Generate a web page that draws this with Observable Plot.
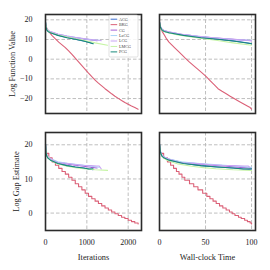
<!DOCTYPE html>
<html><head><meta charset="utf-8">
<script src="https://cdn.jsdelivr.net/npm/d3@7"></script>
<script src="https://cdn.jsdelivr.net/npm/@observablehq/plot@0.6"></script>
<style>
html,body{margin:0;padding:0;background:#fff;}
#wrap{position:relative;width:270px;height:270px;overflow:hidden;background:#fff;}
#wrap svg{position:absolute;left:0;top:0;}
</style></head><body><div id="wrap"></div><script>
// ---- data ----
const methods = ["ACG","BKG","CG","LaCG","LCG","LMCG","PCG"];
const colors = ["#3d6fd0","#db6077","#a45ed6","#a9d6f7","#c8a5f3","#c6f4a6","#18897b"];
const xIterTicks = [0, 1000, 2000];
const xTimeTicks = [0, 50, 100];
const yFTicks = [-20, -10, 0, 10, 20];
const yGapTicks = [0, 10, 20];

const ACG_iter = [0, 10, 30, 60, 120, 300, 520, 720, 920, 1050, 1150];
const ACG_time = [0, 0.9, 2.6, 5.2, 10.4, 26, 45, 63, 80, 91, 100];
const ACG_f    = [18.8, 16.5, 15.0, 14.2, 13.5, 12.2, 11.0, 10.2, 9.3, 8.6, 8.0];
const ACG_gap  = [20.3, 18.0, 16.8, 16.2, 15.6, 14.6, 13.9, 13.5, 13.2, 12.9, 12.7];

const BKG_iter = [0,80,160,240,320,400,480,560,640,720,800,880,960,1040,1120,1200,1280,1360,1440,1520,1600,1680,1760,1840,1920,2000,2080,2160,2240];
const BKG_time = [0,3,5.6,7.7,10.3,13.3,16.3,20,23.9,28,32.3,37,41.8,46.5,50.8,54.4,57.7,60.7,63.6,67.9,72.5,76.7,80.6,84.7,88.5,92,95.4,98.5,100];
const BKG_f    = [17.0,14.0,12.0,10.3,8.7,7.3,5.9,4.2,2.4,0.5,-1.4,-3.3,-5.2,-7.1,-8.9,-10.6,-12.2,-13.6,-15.0,-16.3,-17.6,-18.8,-19.9,-21.0,-22.0,-22.9,-23.8,-24.6,-25.4];
const BKG_gap  = [17.5,16.2,15.0,14.0,13.1,12.2,11.4,10.5,9.6,8.6,7.7,6.8,5.8,4.9,4.2,3.5,2.8,2.1,1.5,0.9,0.3,-0.2,-0.7,-1.2,-1.6,-2.1,-2.5,-2.9,-3.2];
const BKG_gapTime = [0,4.5,8.6,12.1,15.3,18.4,21.2,24.4,27.5,32.6,37.2,41.8,46.9,51.4,54.8,58.2,61.6,65.2,68.8,72.4,76,79,82,85.8,88.8,92.5,95.5,98.5,100];

const CG_iter = [0, 10, 30, 60, 120, 300, 520, 720, 920, 1100, 1250];
const CG_time = [0, 0.8, 2.4, 4.8, 9.6, 24, 41.6, 57.6, 73.6, 88, 100];
const CG_f    = [18.8, 16.7, 15.3, 14.5, 13.8, 12.6, 11.6, 10.9, 10.3, 9.8, 9.4];
const CG_gap  = [20.3, 18.2, 17.0, 16.4, 15.8, 14.9, 14.4, 14.0, 13.7, 13.4, 13.2];

const LaCG_iter = [0, 10, 30, 60, 120, 300, 520, 720, 920, 1100, 1300];
const LaCG_time = [0, 0.8, 2.3, 4.6, 9.2, 23, 40, 55.4, 70.8, 84.6, 100];
const LaCG_f    = [18.8, 16.8, 15.4, 14.6, 13.9, 12.7, 11.7, 11.0, 10.4, 9.9, 9.6];
const LaCG_gap  = [20.3, 18.3, 17.1, 16.5, 15.9, 15.0, 14.6, 14.3, 14.0, 13.7, 13.4];

const LCG_iter = [0, 10, 30, 60, 120, 300, 520, 720, 920, 1100, 1240, 1300, 1350];
const LCG_time = [0, 0.7, 2.2, 4.4, 8.9, 22.2, 38.5, 53.3, 68.1, 81.5, 91.9, 96.3, 100];
const LCG_f    = [18.8, 16.9, 15.5, 14.7, 14.0, 12.8, 11.8, 11.1, 10.5, 10.0, 9.7, 9.6, 9.4];
const LCG_gap  = [20.3, 18.3, 17.1, 16.5, 15.9, 14.7, 14.6, 14.2, 14.0, 13.9, 13.8, 13.8, 12.9];

const LMCG_iter = [0, 10, 30, 60, 120, 300, 520, 720, 920, 1200, 1500];
const LMCG_time = [0, 0.7, 2, 4, 8, 20, 34.7, 48, 61.3, 80, 100];
const LMCG_f    = [18.8, 16.6, 15.1, 14.3, 13.6, 12.3, 11.3, 10.4, 9.6, 8.3, 7.1];
const LMCG_gap  = [20.3, 18.1, 16.9, 16.2, 15.5, 14.4, 13.7, 13.3, 13.0, 12.7, 12.5];

const PCG_iter = [0, 10, 30, 60, 120, 300, 520, 720, 920, 1050, 1150];
const PCG_time = [0, 0.9, 2.6, 5.2, 10.4, 26, 45, 63, 80, 91, 100];
const PCG_f    = [18.8, 16.4, 14.9, 14.1, 13.4, 12.1, 10.9, 10.1, 9.2, 8.5, 7.8];
const PCG_gap  = [20.3, 17.9, 16.7, 16.1, 15.5, 14.5, 13.9, 13.5, 13.2, 12.9, 13.0];

// ---- tidy table ----
function rows(method, iter, time, f, gap, gtime) {
  return iter.map((it, i) => ({method, iter: it, time: time[i], f: f[i], gap: gap[i], gtime: (gtime || time)[i]}));
}
const data = [].concat(
  rows("ACG", ACG_iter, ACG_time, ACG_f, ACG_gap),
  rows("BKG", BKG_iter, BKG_time, BKG_f, BKG_gap, BKG_gapTime),
  rows("CG", CG_iter, CG_time, CG_f, CG_gap),
  rows("LaCG", LaCG_iter, LaCG_time, LaCG_f, LaCG_gap),
  rows("LCG", LCG_iter, LCG_time, LCG_f, LCG_gap),
  rows("LMCG", LMCG_iter, LMCG_time, LMCG_f, LMCG_gap),
  rows("PCG", PCG_iter, PCG_time, PCG_f, PCG_gap)
);
const bkg = data.filter(d => d.method === "BKG");
const firstGroup = data.filter(d => d.method === "ACG");
const laterGroup = data.filter(d => d.method !== "ACG" && d.method !== "BKG");

const FONT = "'Liberation Serif', 'DejaVu Serif', serif";
const GRID = {stroke: "#b8b8b8", strokeOpacity: 1, strokeDasharray: "3.5,2", strokeWidth: 0.9};
const colorScale = {domain: methods, range: colors};
const fmt = d3.format("d");
const TXT = {fontSize: 8.3, fontFamily: FONT, fill: "#222"};
const AX = {tickSize: 0, fontSize: 8, fontFamily: FONT, fill: "#222", label: null, tickFormat: fmt};

function panel({mt, mb, ml, mr, xdom, ydom, xticks, yticks, xKey, bkgX, yKey, bkgCurve, yLabel, yLabelDx, xLabel}) {
  const marks = [
    Plot.gridX(xticks, GRID),
    Plot.gridY(yticks, GRID),
    Plot.line(firstGroup, {x: xKey, y: yKey, z: "method", stroke: "method", strokeWidth: 1.1}),
    Plot.line(bkg, {x: bkgX, y: yKey, stroke: "method", strokeWidth: 1.1, curve: bkgCurve}),
    Plot.line(laterGroup, {x: xKey, y: yKey, z: "method", stroke: "method", strokeWidth: 1.1}),
    Plot.frame({stroke: "#2b2b2b", strokeWidth: 1.6})
  ];
  if (yLabel) {
    marks.push(Plot.axisY(yticks, {...AX, tickPadding: 13}));
    marks.push(Plot.text([yLabel], {...TXT, text: d => d, frameAnchor: "left", dx: yLabelDx, rotate: -90, textAnchor: "middle", lineAnchor: "middle"}));
  }
  if (xLabel) {
    marks.push(Plot.axisX(xticks, {...AX, tickPadding: 9}));
    marks.push(Plot.text([xLabel], {...TXT, text: d => d, frameAnchor: "bottom", dy: 26.7, textAnchor: "middle", lineAnchor: "middle"}));
  }
  return Plot.plot({
    width: 270, height: 270,
    marginTop: mt, marginBottom: mb, marginLeft: ml, marginRight: mr,
    x: {domain: xdom, axis: null},
    y: {domain: ydom, axis: null},
    color: colorScale,
    style: {background: "transparent", fontFamily: FONT},
    marks
  });
}

const wrap = document.getElementById("wrap");
const iterDom = [0, 2322], timeDom = [0, 104.3];
const fDom = [-27.6, 22.7], gDom = [-5.1, 23.6];

wrap.appendChild(panel({mt: 14, mb: 157, ml: 45, mr: 129, xdom: iterDom, ydom: fDom, xticks: xIterTicks, yticks: yFTicks,
  xKey: "iter", bkgX: "iter", yKey: "f", bkgCurve: "linear", yLabel: "Log Function Value", yLabelDx: -33}));
wrap.appendChild(panel({mt: 14, mb: 157, ml: 159, mr: 15, xdom: timeDom, ydom: fDom, xticks: xTimeTicks, yticks: yFTicks,
  xKey: "time", bkgX: "time", yKey: "f", bkgCurve: "linear"}));
wrap.appendChild(panel({mt: 132, mb: 40, ml: 45, mr: 129, xdom: iterDom, ydom: gDom, xticks: xIterTicks, yticks: yGapTicks,
  xKey: "iter", bkgX: "iter", yKey: "gap", bkgCurve: "step-after", yLabel: "Log Gap Estimate", yLabelDx: -29, xLabel: "Iterations"}));
wrap.appendChild(panel({mt: 132, mb: 40, ml: 159, mr: 15, xdom: timeDom, ydom: gDom, xticks: xTimeTicks, yticks: yGapTicks,
  xKey: "time", bkgX: "gtime", yKey: "gap", bkgCurve: "step-after", xLabel: "Wall-clock Time"}));

// ---- legend (top-left panel, upper right) ----
const svg = d3.select(wrap).append("svg").attr("width", 270).attr("height", 270).style("pointer-events", "none");
const lg = svg.append("g").attr("transform", "translate(109,15)");
lg.append("rect").attr("x", 0).attr("y", 0).attr("width", 29).attr("height", 42).attr("rx", 1.5)
  .attr("fill", "#fff").attr("fill-opacity", 0.85).attr("stroke", "#cccccc").attr("stroke-width", 0.6);
methods.forEach((m, i) => {
  const y = 4.2 + i * 5.45;
  lg.append("line").attr("x1", 1.6).attr("x2", 8.2).attr("y1", y).attr("y2", y)
    .attr("stroke", colors[i]).attr("stroke-width", 1);
  lg.append("g").attr("transform", `translate(10,${y}) scale(0.5)`)
    .append("text").attr("dy", "0.35em").attr("font-size", 8.4).attr("font-family", FONT).attr("fill", "#444").text(m);
});
</script></body></html>
